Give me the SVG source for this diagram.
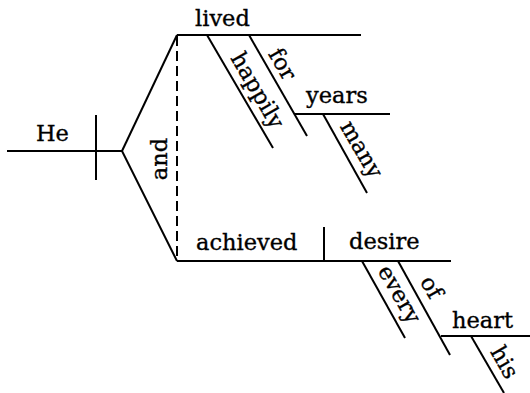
<svg xmlns="http://www.w3.org/2000/svg" width="530" height="393" viewBox="0 0 530 393">
<style>
  line, path { stroke: #000; stroke-width: 2; fill: none; stroke-linecap: butt; }
  text { font-family: "DejaVu Serif", "Liberation Serif", serif; font-size: 22.5px; fill: #000; stroke: #000; stroke-width: 0.35; }
  .dash { stroke-dasharray: 10 5; }
  .mid { text-anchor: middle; }
</style>
<rect width="530" height="393" fill="#fff"/>
<g id="connectors">
  <line x1="122" y1="151" x2="177" y2="35"/>
  <line x1="122" y1="151" x2="177" y2="261"/>
  <line class="dash" x1="177" y1="36" x2="177" y2="260"/>
</g>
<g id="subject">
  <line x1="7" y1="151" x2="122" y2="151"/>
  <line x1="96" y1="115" x2="96" y2="180"/>
  <text x="36" y="141">He</text>
</g>
<g id="conj-and">
  <text class="mid" transform="translate(167,159) rotate(-90)">and</text>
</g>
<g id="verb-lived">
  <line x1="177" y1="35" x2="361" y2="35"/>
  <text x="195" y="26">lived</text>
</g>
<g id="mod-happily">
  <line x1="207" y1="35" x2="273" y2="148"/>
  <text class="mid" transform="translate(251,94) rotate(60)">happily</text>
</g>
<g id="prep-for">
  <line x1="249" y1="35" x2="307" y2="136"/>
  <text class="mid" transform="translate(276,68) rotate(60)">for</text>
</g>
<g id="obj-years">
  <line x1="295" y1="114" x2="390" y2="114"/>
  <text x="306" y="103">years</text>
</g>
<g id="mod-many">
  <line x1="323" y1="114" x2="367" y2="193"/>
  <text class="mid" transform="translate(355,153) rotate(60)">many</text>
</g>
<g id="verb-achieved">
  <line x1="177" y1="261" x2="451" y2="261"/>
  <line x1="324" y1="227" x2="324" y2="261"/>
  <text x="196" y="250">achieved</text>
</g>
<g id="obj-desire">
  <text x="349" y="249">desire</text>
</g>
<g id="mod-every">
  <line x1="362" y1="261" x2="405" y2="338"/>
  <text class="mid" transform="translate(393,298) rotate(60)">every</text>
</g>
<g id="prep-of">
  <line x1="398" y1="261" x2="450" y2="355"/>
  <text class="mid" transform="translate(425,291) rotate(60)">of</text>
</g>
<g id="obj-heart">
  <line x1="441" y1="336" x2="530" y2="336"/>
  <text x="452" y="328">heart</text>
</g>
<g id="mod-his">
  <line x1="471" y1="336" x2="504" y2="393"/>
  <text class="mid" transform="translate(498,366) rotate(60)">his</text>
</g>
</svg>
